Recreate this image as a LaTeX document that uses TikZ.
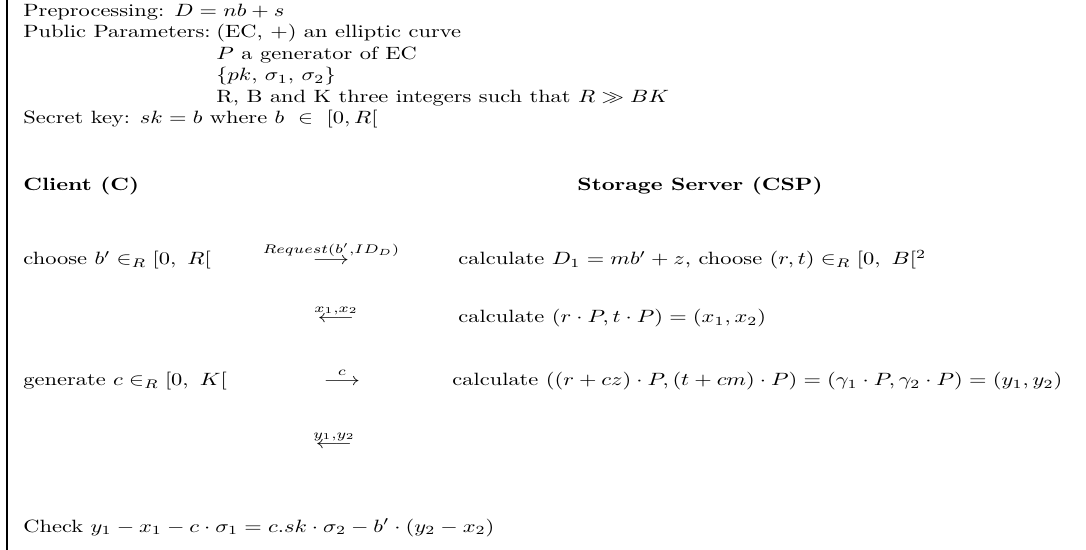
\documentclass[tikz,border=0pt]{standalone}
\usepackage{amsmath, amssymb}
\usepackage{xcolor}
\usepackage{tikz}
\usetikzlibrary{positioning}

\begin{document}
\begin{tikzpicture}[x=0.5618pt,y=-0.5618pt,
  txt/.style={anchor=base west,inner sep=0pt,xscale=1.26,transform shape},
  msg/.style={anchor=base,inner sep=0pt,xscale=1.26,transform shape}]
  \useasboundingbox (0,0) rectangle (1086,550);
  % Rand
  \draw[line width=0.6pt] (7,0) -- (7,550);
  % Parameter
  \node[txt] (pre) at (23,17) {Preprocessing: $D = nb + s$};
  \node[txt] (pub) at (23,38) {Public Parameters:};
  \node[txt] (ec) at (216,38) {(EC, $+$) an elliptic curve};
  \node[txt] (gen) at (216,60) {$P$ a generator of EC};
  \node[txt] (pk) at (216,81) {$\{pk,\, \sigma_1,\, \sigma_2\}$};
  \node[txt] (rbk) at (216,103) {R, B and K three integers such that $R \gg BK$};
  \node[txt] (sk) at (23,124) {Secret key: $sk = b$ where $b\ \in\ [0,R[$};
  % Parteien
  \node[txt] (client) at (23,191) {\textbf{Client (C)}};
  \node[txt] (server) at (577,191) {\textbf{Storage Server (CSP)}};
  % Protokoll
  \node[txt] (c1) at (23,265) {choose $b' \in_R [0,\ R[$};
  \node[msg] (m1) at (331,265) {$\stackrel{Request(b',ID_D)}{\longrightarrow}$};
  \node[txt] (s1) at (458,265) {calculate $D_1 = mb' + z$, choose $(r,t) \in_R [0,\ B[^2$};
  \node[msg] (m2) at (336,323) {$\stackrel{x_1,x_2}{\longleftarrow}$};
  \node[txt] (s2) at (458,323) {calculate $(r \cdot P, t \cdot P) = (x_1, x_2)$};
  \node[txt] (c3) at (23,386) {generate $c \in_R [0,\ K[$};
  \node[msg] (m3) at (342,386) {$\stackrel{c}{\longrightarrow}$};
  \node[txt] (s3) at (452,386) {calculate $((r + cz) \cdot P, (t + cm) \cdot P) = (\gamma_1 \cdot P, \gamma_2 \cdot P) = (y_1, y_2)$};
  \node[msg] (m4) at (334,449) {$\stackrel{y_1,y_2}{\longleftarrow}$};
  \node[txt] (chk) at (23,532) {Check $y_1 - x_1 - c \cdot \sigma_1 = c.sk \cdot \sigma_2 - b' \cdot (y_2 - x_2)$};
\end{tikzpicture}
\end{document}
